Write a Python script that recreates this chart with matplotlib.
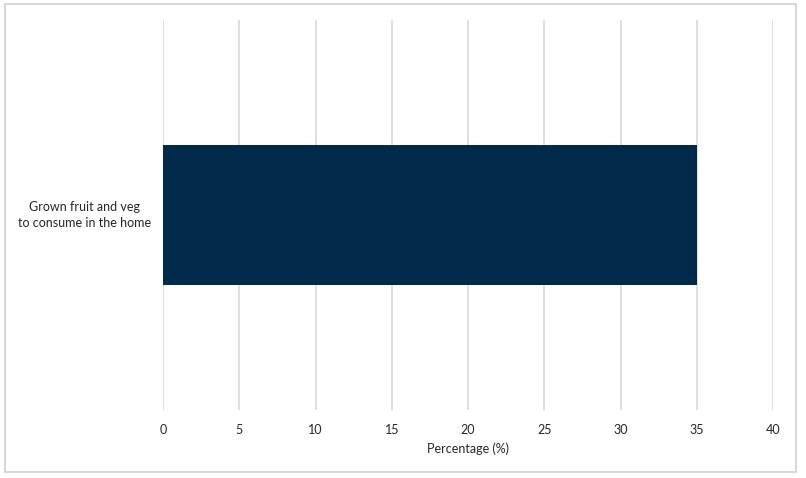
import matplotlib.pyplot as plt
from matplotlib.patches import Rectangle

# data
categories = ["Grown fruit and veg\nto consume in the home"]
values = [35]
xticks = [0, 5, 10, 15, 20, 25, 30, 35, 40]

plt.rcParams['font.family'] = ['Lato', 'DejaVu Sans']

fig = plt.figure(figsize=(8.06, 4.78), dpi=100)
ax = fig.add_axes([163/806, 1 - 410/478, 610/806, 390/478])

ax.barh(range(len(categories)), values, height=0.357, color='#002a4a', zorder=3)
ax.set_xlim(0, 40)
ax.set_ylim(-0.5, len(categories) - 0.5)
ax.set_xticks(xticks)
ax.set_yticks([])
ax.grid(axis='x', color='#d9d9d9', linewidth=1.2, zorder=0)
for s in ax.spines.values():
    s.set_visible(False)
ax.tick_params(axis='both', length=0, labelsize=9, colors='#262626')
ax.tick_params(axis='x', pad=10)
ax.set_xlabel("Percentage (%)", fontsize=9, color='#262626', labelpad=5)

# category labels, centred in the left margin
trans = ax.get_yaxis_transform()
for i, c in enumerate(categories):
    ax.text(-0.128, i, c, transform=trans, ha='center', va='center',
            fontsize=9, color='#262626', linespacing=1.4)

# outer border
fig.patches.append(Rectangle((5/806, 1 - 472/478), 791/806, 468/478,
                             transform=fig.transFigure, fill=False,
                             edgecolor='#d0d0d0', linewidth=1.2))

fig.savefig("out.png", dpi=100)
